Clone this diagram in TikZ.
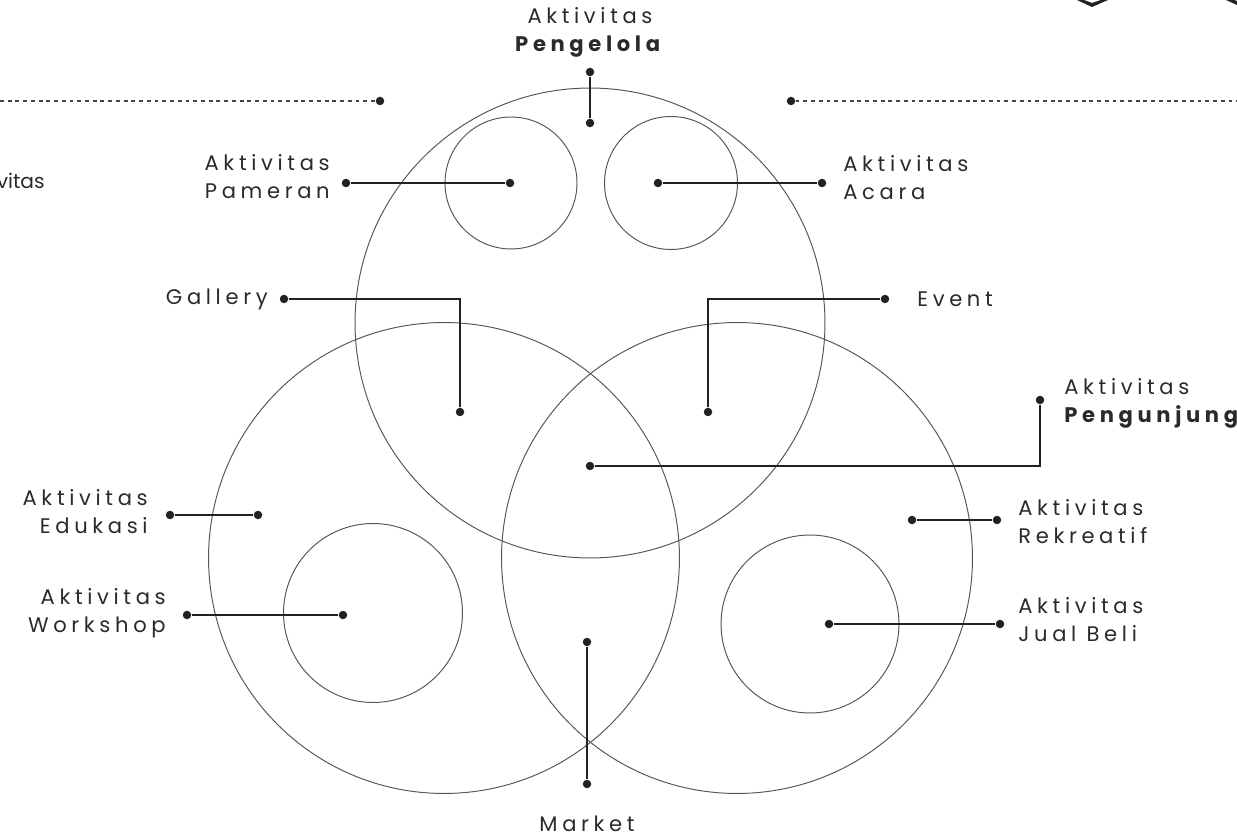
\documentclass[tikz,border=0pt]{standalone}
\usepackage{fontspec}
\setmainfont{Poppins}[LetterSpace=22]
\newfontfamily\plainfont{Poppins}
\usepackage{xcolor}
\usetikzlibrary{calc}
\definecolor{ringc}{HTML}{555555}
\definecolor{linec}{HTML}{222222}
\definecolor{txtc}{HTML}{2A2A2A}

\begin{document}
\begin{tikzpicture}[x=0.02cm,y=-0.02cm,
  ring/.style={draw=ringc,line width=0.55pt},
  wire/.style={draw=linec,line width=0.6pt},
  dot/.style={circle,fill=linec,inner sep=0pt,minimum size=0.17cm},
  dotline/.style={draw=linec!85,line width=0.8pt,dash pattern=on 2.2pt off 2.2pt},
  lab/.style={text=txtc,inner sep=0pt,font=\fontsize{12}{16}\selectfont}]
\useasboundingbox (0,0) rectangle (1237,837);

% the circles
\draw[ring] (590,323) circle[radius=4.7cm];
\draw[ring] (444,558) circle[radius=4.71cm];
\draw[ring] (737,558) circle[radius=4.71cm];
\draw[ring] (511,183) circle[radius=1.32cm];
\draw[ring] (671,183) circle[radius=1.33cm];
\draw[ring] (373,613) circle[radius=1.79cm];
\draw[ring] (810,624) circle[radius=1.78cm];

% dotted lines at the top
\coordinate (lend) at (0,101);
\coordinate (rend) at (1237,101);
\node[dot] (lpt) at (380,101) {};
\node[dot] (rpt) at (791,101) {};
\draw[dotline] (lend) -- (lpt);
\draw[dotline] (rpt) -- (rend);

% dots
\node[dot] (pengelola) at (590,72) {};
\node[dot] (pengelolain) at (590,123) {};
\node[dot] (pameran) at (346,183) {};
\node[dot] (pameranin) at (510,183) {};
\node[dot] (acarain) at (658,183) {};
\node[dot] (acara) at (822,183) {};
\node[dot] (gallery) at (284,299) {};
\node[dot] (galleryin) at (460,412) {};
\node[dot] (event) at (885,299) {};
\node[dot] (eventin) at (708,412) {};
\node[dot] (pengunjung) at (1040,400) {};
\node[dot] (pengunjungin) at (590,466) {};
\node[dot] (edukasi) at (170,515) {};
\node[dot] (edukasiin) at (258,515) {};
\node[dot] (rekreatifin) at (912,520) {};
\node[dot] (rekreatif) at (997,520) {};
\node[dot] (workshop) at (187,615) {};
\node[dot] (workshopin) at (343,615) {};
\node[dot] (jualin) at (829,624) {};
\node[dot] (jual) at (1000,624) {};
\node[dot] (marketin) at (587,642) {};
\node[dot] (market) at (587,784) {};

% connectors
\draw[wire] (pengelola) -- (pengelolain);
\draw[wire] (pameran) -- (pameranin);
\draw[wire] (acarain) -- (acara);
\draw[wire] (gallery) -| (galleryin);
\draw[wire] (event) -| (eventin);
\draw[wire] (pengunjung) |- (pengunjungin);
\draw[wire] (edukasi) -- (edukasiin);
\draw[wire] (rekreatifin) -- (rekreatif);
\draw[wire] (workshop) -- (workshopin);
\draw[wire] (jualin) -- (jual);
\draw[wire] (marketin) -- (market);

% labels
\node[lab,align=center] (tpengelola) at (590,32) {Aktivitas\\\textbf{Pengelola}};
\node[lab,align=right,anchor=east] (tpameran) at (330,177) {Aktivitas\\Pameran};
\node[lab,align=left,anchor=west] (tacara) at (843,178) {Aktivitas\\Acara};
\node[lab,anchor=east] (tgallery) at (268,299) {Gallery};
\node[lab,anchor=west] (tevent) at (917,299) {Event};
\node[lab,align=left,anchor=west] (tpengunjung) at (1064,403) {Aktivitas\\\textbf{Pengunjung}};
\node[lab,align=right,anchor=east] (tedukasi) at (148,512) {Aktivitas\\Edukasi};
\node[lab,align=right,anchor=east] (tworkshop) at (166,613) {Aktivitas\\Workshop};
\node[lab,align=left,anchor=west] (trekreatif) at (1018,522) {Aktivitas\\Rekreatif};
\node[lab,align=left,anchor=west] (tjual) at (1018,620) {Aktivitas\\Jual Beli};
\node[lab] (tmarket) at (587,824) {Market};
\node[text=txtc,inner sep=0pt,anchor=east,font=\plainfont\fontsize{11.5}{14}\selectfont] (tcut) at (45,181) {Aktivitas};

% cut-off icon pieces at the top edge
\fill[linec] (1077,0) -- (1092,7) -- (1108,0) -- (1101,0) -- (1092,3) -- (1084,0) -- cycle;
\fill[linec] (1226,0) -- (1237,5) -- (1237,1) -- (1234,0) -- cycle;
\end{tikzpicture}
\end{document}
